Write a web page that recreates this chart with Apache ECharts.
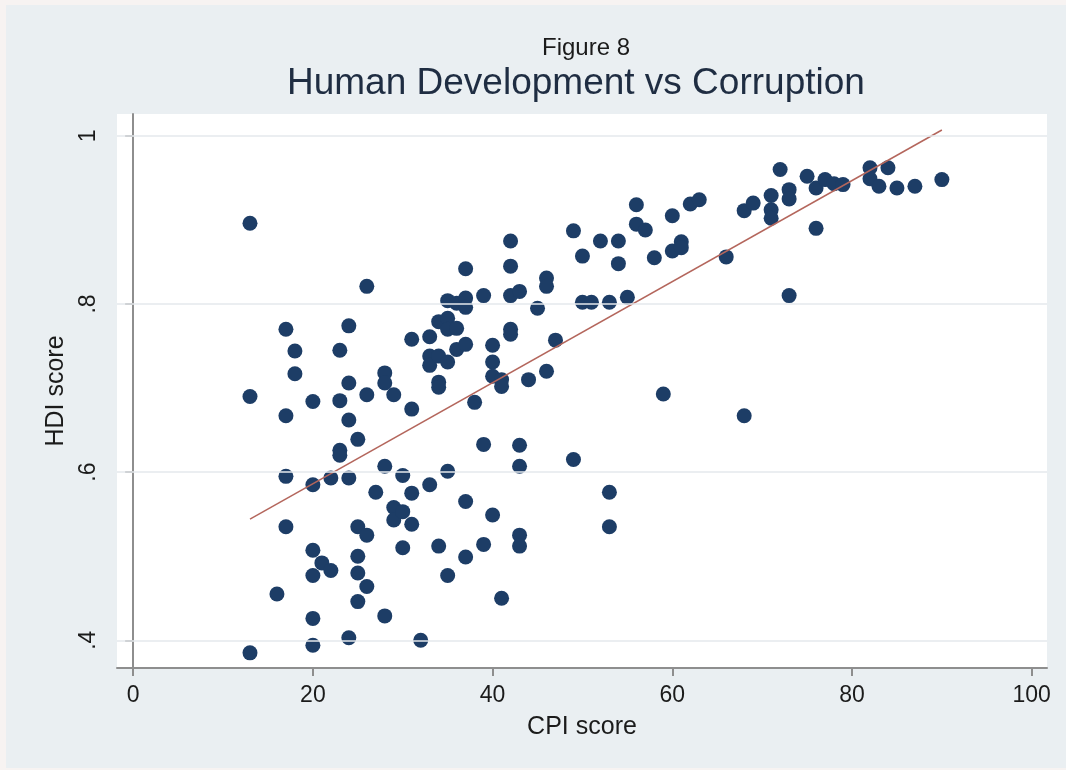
<!DOCTYPE html>
<html>
<head>
<meta charset="utf-8">
<title>Human Development vs Corruption</title>
<script src="https://cdn.jsdelivr.net/npm/echarts@6/dist/echarts.min.js"></script>
<style>
  body { margin: 0; background: #f7f3f2; }
  #main { position: absolute; left: 6px; top: 5px; width: 1060px; height: 763px; background: #eaeff2; }
</style>
</head>
<body>
<div id="main"></div>
<script>
// CPI score (x) and HDI score (y), grouped by CPI column
var cpi = [
  13, 13, 13, 16, 17, 17, 17, 17, 18, 18,
  20, 20, 20, 20, 20, 20, 21, 22, 22,
  23, 23, 23, 23, 24, 24, 24, 24, 24,
  25, 25, 25, 25, 25, 26, 26, 26, 26, 27,
  28, 28, 28, 28, 29, 29, 29, 30, 30, 30,
  31, 31, 31, 31, 32, 33, 33, 33, 33,
  34, 34, 34, 34, 34, 35, 35, 35, 35, 35, 35,
  36, 36, 36, 37, 37, 37, 37, 37, 37, 38,
  39, 39, 39, 40, 40, 40, 40, 41, 41, 41,
  42, 42, 42, 42, 42, 43, 43, 43, 43, 43,
  44, 45, 46, 46, 46, 47, 49, 49, 50, 50, 51, 52,
  53, 53, 53, 54, 54, 55, 56, 56, 57, 58, 59,
  60, 60, 61, 61, 62, 63, 66, 68, 68, 69,
  71, 71, 71, 72, 73, 73, 73, 75, 76, 76,
  77, 78, 79, 82, 82, 83, 84, 85, 87, 90
];
var hdi = [
  0.896, 0.690, 0.385, 0.455, 0.770, 0.667, 0.595, 0.535, 0.744, 0.717,
  0.585, 0.684, 0.507, 0.477, 0.426, 0.394, 0.492, 0.483, 0.593,
  0.745, 0.685, 0.626, 0.620, 0.774, 0.706, 0.662, 0.593, 0.403,
  0.639, 0.535, 0.500, 0.480, 0.446, 0.821, 0.692, 0.525, 0.464, 0.576,
  0.718, 0.706, 0.607, 0.429, 0.692, 0.558, 0.543, 0.596, 0.553, 0.510,
  0.758, 0.675, 0.575, 0.538, 0.400, 0.761, 0.738, 0.727, 0.585,
  0.779, 0.738, 0.707, 0.701, 0.512, 0.804, 0.783, 0.770, 0.731, 0.601, 0.477,
  0.801, 0.771, 0.746, 0.842, 0.807, 0.796, 0.752, 0.565, 0.499, 0.683,
  0.810, 0.633, 0.514, 0.751, 0.731, 0.714, 0.549, 0.710, 0.702, 0.450,
  0.875, 0.845, 0.810, 0.770, 0.764, 0.815, 0.632, 0.607, 0.525, 0.512,
  0.710, 0.795, 0.831, 0.821, 0.720, 0.757, 0.887, 0.615, 0.857, 0.802, 0.802, 0.875,
  0.802, 0.576, 0.535, 0.875, 0.848, 0.808, 0.918, 0.895, 0.888, 0.855, 0.693,
  0.905, 0.863, 0.874, 0.867, 0.919, 0.924, 0.856, 0.911, 0.667, 0.920,
  0.929, 0.912, 0.902, 0.960, 0.936, 0.925, 0.810, 0.952, 0.938, 0.890,
  0.948, 0.943, 0.942, 0.962, 0.949, 0.940, 0.962, 0.938, 0.940, 0.948
];
// fitted line end points
var fitX = [13, 90];
var fitY = [0.544, 1.007];
// tick values
var xTicks = [0, 20, 40, 60, 80, 100];
var yTicks = [0.4, 0.6, 0.8, 1];

var font = "'Liberation Sans', Arial, sans-serif";
var points = cpi.map(function (x, i) { return [x, hdi[i]]; });
var fitLine = fitX.map(function (x, i) { return [x, fitY[i]]; });

var myChart = echarts.init(document.getElementById("main"));
myChart.setOption({
  animation: false,
  title: [
    {
      text: "Figure 8",
      left: 531,
      top: 26,
      textStyle: { fontFamily: font, fontSize: 24, fontWeight: "normal", color: "#1b1b1b" }
    },
    {
      text: "Human Development vs Corruption",
      left: 276,
      top: 55,
      textStyle: { fontFamily: font, fontSize: 37, fontWeight: "normal", color: "#1f2d42" }
    }
  ],
  grid: {
    left: 111,
    top: 109,
    right: 19,
    bottom: 100,
    show: true,
    backgroundColor: "#ffffff",
    borderWidth: 0
  },
  xAxis: {
    type: "value",
    min: -1.8,
    max: 101.7,
    name: "CPI score",
    nameLocation: "middle",
    nameGap: 47,
    nameTextStyle: { fontFamily: font, fontSize: 25, color: "#1b1b1b" },
    axisLine: { show: true, lineStyle: { color: "#8e8e8e", width: 2 } },
    axisTick: { show: true, customValues: xTicks, length: 8, lineStyle: { color: "#8e8e8e", width: 2 } },
    axisLabel: { customValues: xTicks, margin: 16, fontFamily: font, fontSize: 23, color: "#1b1b1b" },
    splitLine: { show: false }
  },
  yAxis: {
    type: "value",
    min: 0.367,
    max: 1.026,
    name: "HDI score",
    nameLocation: "middle",
    nameGap: 47,
    nameTextStyle: { fontFamily: font, fontSize: 25, color: "#1b1b1b" },
    axisLine: { show: true, lineStyle: { color: "#8e8e8e", width: 2 } },
    axisTick: { show: true, customValues: yTicks, length: 8, lineStyle: { color: "#8e8e8e", width: 2 } },
    axisLabel: {
      customValues: yTicks,
      rotate: 90,
      margin: 17,
      fontFamily: font,
      fontSize: 23,
      color: "#1b1b1b",
      formatter: function (v) {
        return v === 1 ? "1" : String(v).replace("0.", ".");
      }
    },
    splitLine: { show: false }
  },
  series: [
    {
      // grid lines at the y ticks
      type: "scatter",
      data: [],
      z: 1,
      silent: true,
      markLine: {
        silent: true,
        symbol: "none",
        label: { show: false },
        lineStyle: { color: "#e4e9ec", type: "solid", width: 1.5 },
        data: yTicks.map(function (v) { return { yAxis: v }; })
      }
    },
    {
      name: "HDI score",
      type: "scatter",
      symbolSize: 15,
      z: 2,
      itemStyle: { color: "#1d3d66", opacity: 1 },
      data: points
    },
    {
      name: "Fitted values",
      type: "line",
      symbol: "none",
      z: 3,
      lineStyle: { color: "#b4665c", width: 1.5 },
      data: fitLine
    }
  ]
});
</script>
</body>
</html>
